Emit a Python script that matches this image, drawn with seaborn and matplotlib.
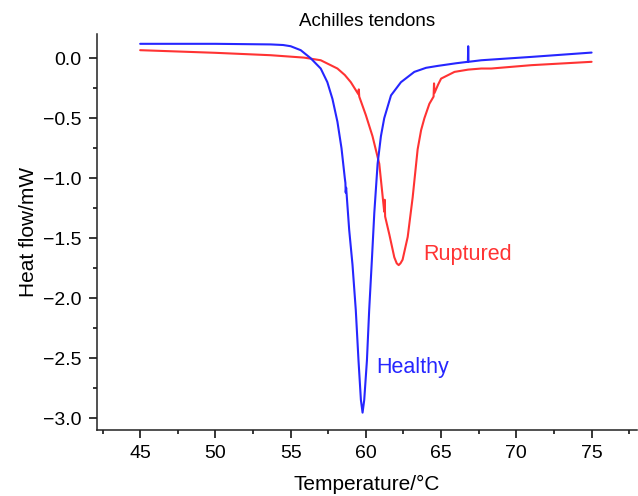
import matplotlib
matplotlib.use("Agg")
import matplotlib.pyplot as plt
import seaborn as sns
import pandas as pd
from matplotlib.ticker import MultipleLocator

# Healthy (blue) DSC curve
healthy_t = [45, 50, 53.67, 54.5, 55, 55.67, 56.33, 57, 57.44, 57.78, 58.11, 58.38,
             58.6, 58.64, 58.66, 58.69, 58.89, 59.11, 59.33, 59.51, 59.67, 59.78,
             59.89, 60.07, 60.22, 60.4, 60.56, 60.78, 61.0, 61.22, 61.67, 62.33,
             63.22, 64.0, 64.78, 66.0, 66.78, 66.80, 66.82, 67.67, 71, 75]
healthy_hf = [0.12, 0.12, 0.115, 0.11, 0.10, 0.067, 0.0, -0.086, -0.2, -0.34, -0.53,
              -0.75, -1.0, -1.04, -1.12, -1.08, -1.43, -1.72, -2.1, -2.52, -2.85,
              -2.955, -2.85, -2.52, -2.1, -1.68, -1.29, -0.88, -0.65, -0.5, -0.31,
              -0.2, -0.114, -0.08, -0.064, -0.042, -0.03, 0.10, -0.03, -0.017,
              0.011, 0.047]

# Ruptured (red) DSC curve
ruptured_t = [45, 50, 53.67, 55.89, 57, 58.11, 58.6, 59, 59.5, 59.53, 59.56, 60.0,
              60.44, 60.89, 61.22, 61.25, 61.28, 61.56, 61.89, 62.05, 62.18, 62.3,
              62.44, 62.78, 63.11, 63.44, 63.67, 63.89, 64.22, 64.5, 64.53, 64.56,
              64.8, 65.0, 65.89, 66.8, 67.67, 68.33, 71, 75]
ruptured_hf = [0.067, 0.045, 0.025, 0.005, -0.017, -0.086, -0.14, -0.2, -0.30, -0.26,
               -0.32, -0.475, -0.65, -0.88, -1.28, -1.18, -1.32, -1.47, -1.66, -1.71,
               -1.725, -1.71, -1.68, -1.49, -1.16, -0.76, -0.6, -0.5, -0.38, -0.32,
               -0.21, -0.29, -0.22, -0.17, -0.114, -0.095, -0.086, -0.086, -0.058,
               -0.03]

x_ticks = [45, 50, 55, 60, 65, 70, 75]
y_ticks = [0.0, -0.5, -1.0, -1.5, -2.0, -2.5, -3.0]

sns.set_style("ticks")
plt.rcParams['font.family'] = ['Liberation Sans', 'DejaVu Sans']
plt.rcParams['text.color'] = 'black'
plt.rcParams['axes.labelcolor'] = 'black'
plt.rcParams['xtick.color'] = 'black'
plt.rcParams['ytick.color'] = 'black'

fig = plt.figure(figsize=(6.38, 4.96), dpi=100)
ax = fig.add_axes([0.152, 0.133, 0.846, 0.798])

blue = (0.15, 0.15, 1.0)
red = (1.0, 0.2, 0.2)

df_h = pd.DataFrame({"t": healthy_t, "hf": healthy_hf})
df_r = pd.DataFrame({"t": ruptured_t, "hf": ruptured_hf})
sns.lineplot(data=df_r, x="t", y="hf", ax=ax, color=red, lw=1.5, sort=False, estimator=None)
sns.lineplot(data=df_h, x="t", y="hf", ax=ax, color=blue, lw=1.5, sort=False, estimator=None)

ax.set_xlim(42.13, 78.0)
ax.set_ylim(-3.1, 0.2)
ax.set_xticks(x_ticks)
ax.set_yticks(y_ticks)
ax.set_yticklabels([f"{v:.1f}".replace("-", "\u2212") for v in y_ticks])
ax.xaxis.set_minor_locator(MultipleLocator(2.5))
ax.yaxis.set_minor_locator(MultipleLocator(0.25))
ax.tick_params(axis='both', which='major', length=6, width=1.1, labelsize=14,
               direction='out', pad=5, colors='black')
ax.tick_params(axis='both', which='minor', length=3, width=1.1, direction='out',
               colors='black')
sns.despine(ax=ax)
for s in ["left", "bottom"]:
    ax.spines[s].set_linewidth(1.1)
    ax.spines[s].set_color("#222222")

ax.set_xlabel("Temperature/\u00b0C", fontsize=15, labelpad=9, color='black')
ax.set_ylabel("Heat flow/mW", fontsize=15, labelpad=4, color='black')
ax.set_title("Achilles tendons", fontsize=13.5, pad=6, color='black')

ax.text(63.8, -1.64, "Ruptured", color=red, fontsize=15.5, va="center", ha="left")
ax.text(60.67, -2.575, "Healthy", color=blue, fontsize=15.5, va="center", ha="left")

fig.savefig("out.png", dpi=100)
